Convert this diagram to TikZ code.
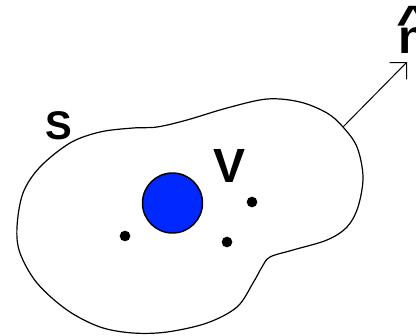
\documentclass[tikz,border=0pt]{standalone}
\usepackage{fontspec}
\usepackage{graphicx}
\setmainfont{Liberation Sans}
\usetikzlibrary{arrows.meta}
\definecolor{chargeblue}{RGB}{0,40,255}
\tikzset{
  outline/.style={draw=black,line width=0.9pt},
  pointcharge/.style={circle,fill=black,inner sep=0pt,minimum size=8pt},
  lbl/.style={inner sep=0pt},
  normalarrow/.style={draw=black,line width=0.75pt,-{Straight Barb[length=9pt,width=18pt]}}
}
\begin{document}
\begin{tikzpicture}[x=0.75pt,y=-0.75pt]
\useasboundingbox (0,0) rectangle (416,335);
\fill[white] (0,0) rectangle (416,335);
% surface S
\draw[outline] plot[smooth cycle,tension=0.55] coordinates {
 (70,143) (100,132) (133,128) (157,127) (187,120) (227,108) (267,99)
 (300,102) (327,113) (343,127) (357,147) (363,177) (358,207) (347,227)
 (327,240) (293,250) (270,257) (262,267) (253,283) (237,307) (207,323)
 (167,332) (133,333) (100,327) (67,310) (37,283) (20,253) (17,227)
 (23,193) (40,167)};
% charge
\node[circle,draw=black,line width=1.1pt,fill=chargeblue,minimum size=45pt,inner sep=0pt] (q) at (172.5,203) {};
\node[pointcharge] (d1) at (125,236) {};
\node[pointcharge] (d2) at (227,242) {};
\node[pointcharge] (d3) at (252,202) {};
% labels
\node[lbl,anchor=base west,font=\fontsize{30}{30}\selectfont\bfseries] (S) at (45,139.5) {S};
\node[lbl,anchor=base west,font=\fontsize{36}{36}\selectfont\bfseries] (V) at (213,182) {V};
% normal
\coordinate (base) at (343,127);
\coordinate (tip) at (407,62);
\draw[normalarrow] (base) -- (tip);
\node[lbl,anchor=base west,font=\fontsize{36}{36}\selectfont\bfseries] (n) at (398,53) {n};
\node[lbl,anchor=base,font=\fontsize{34}{34}\selectfont\bfseries] (hat) at (414,37) {\scalebox{1.3}[1]{\textasciicircum}};
\end{tikzpicture}
\end{document}
